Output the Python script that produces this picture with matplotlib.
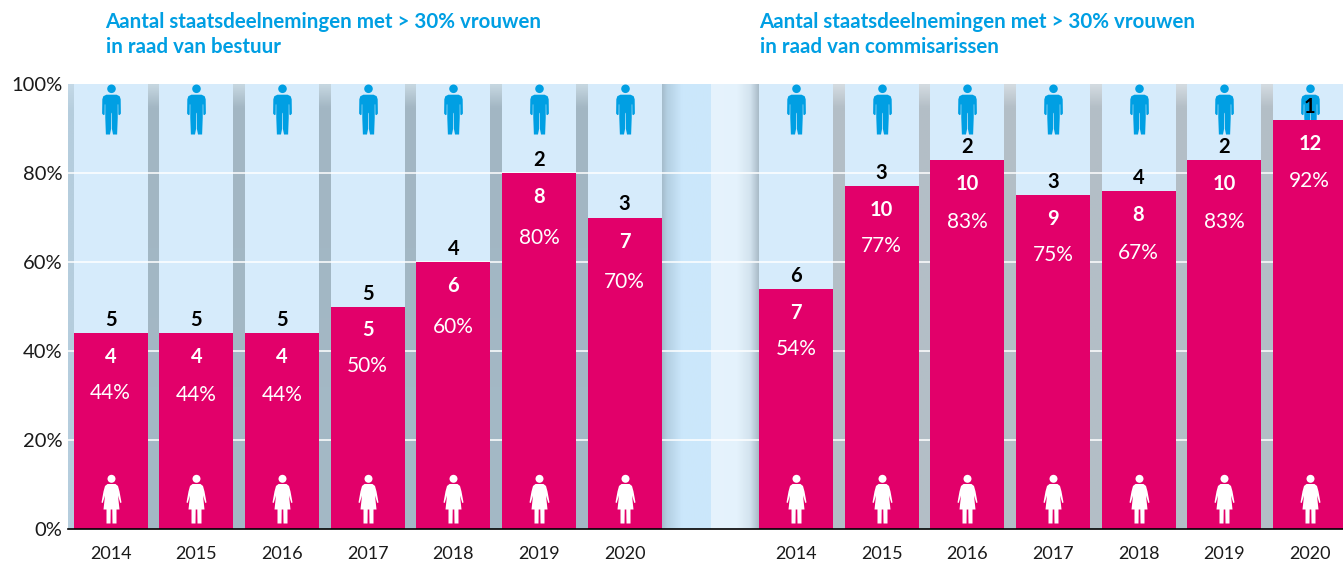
import numpy as np
import matplotlib
matplotlib.use('Agg')
import matplotlib.pyplot as plt
from matplotlib.path import Path
from matplotlib.colors import to_rgb

plt.rcParams['font.family'] = ['Lato', 'DejaVu Sans']

# data
jaren = ['2014', '2015', '2016', '2017', '2018', '2019', '2020']
hoogte_bestuur = [44, 44, 44, 50, 60, 80, 70]
vrouwen_bestuur = [4, 4, 4, 5, 6, 8, 7]
mannen_bestuur = [5, 5, 5, 5, 4, 2, 3]
pct_bestuur = [44, 44, 44, 50, 60, 80, 70]

hoogte_rvc = [54, 77, 83, 75, 76, 83, 92]
vrouwen_rvc = [7, 10, 10, 9, 8, 10, 12]
mannen_rvc = [6, 3, 2, 3, 4, 2, 1]
pct_rvc = [54, 77, 83, 75, 67, 83, 92]

titel_links = 'Aantal staatsdeelnemingen met > 30% vrouwen\nin raad van bestuur'
titel_rechts = 'Aantal staatsdeelnemingen met > 30% vrouwen\nin raad van commisarissen'

ROZE = '#e2006a'
LICHT = '#d6ebfb'
BLAUW = '#009fe3'

W, H = 1343, 563
PITCH = 85.65
BAR_W = 74 / PITCH

# afstand percentage-label tot bovenkant balk, in pixels
pct_dy = [-60, -62, -62, -59, -65, -65, -65, -60, -60, -62, -60, -62, -62, -61]


def px2x(px):
    return (px - 110.7) / PITCH


def mirror(right):
    left = [(-x, y) for x, y in reversed(right)]
    return right + left


def figuur(outline, head_y, head_r):
    pts = mirror(outline)
    body = Path(pts + [pts[0]], closed=True)
    head = Path.circle((0, head_y), head_r)
    return Path.make_compound_path(body, head)


man = figuur([(0, 14.5), (5, 14.5), (8, 13), (9, 10), (9.2, -4), (8, -5.5), (6.7, -5),
              (6.6, 5), (6.1, 5), (6.1, -8), (5.5, -24.5), (1.5, -24.5), (0.4, -19),
              (0.3, -4), (0, -3)], 20.3, 4.2)
vrouw = figuur([(0, 14.5), (4, 14.5), (6.5, 12.5), (8, 7), (10, -4), (8.8, -4.5),
                (6.5, 3), (8, -11), (5, -11), (5, -25), (1, -25), (0.8, -11), (0, -11)],
               19.7, 4.0)


def verloop(ax, x0, x1, stops, richting='h'):
    # stops: (positie 0-1, kleur)
    t = np.linspace(0, 1, 128)
    pos = [s[0] for s in stops]
    rgb = np.array([to_rgb(s[1]) for s in stops])
    arr = np.stack([np.interp(t, pos, rgb[:, i]) for i in range(3)], axis=-1)
    arr = arr[None, :, :] if richting == 'h' else arr[:, None, :]
    ax.imshow(arr, extent=(x0, x1, 0, 100), origin='upper', aspect='auto', zorder=0,
              interpolation='bilinear')


fig = plt.figure(figsize=(W / 100, H / 100), dpi=100)
ax = fig.add_axes([68 / W, 1 - 529 / H, (W - 68) / W, (529 - 84) / H])

# achtergrond: stroken tussen de balken
xs = np.arange(15)
x_links = xs[:7]
x_rechts = xs[8:]
verloop(ax, px2x(68), -BAR_W / 2, [(0, '#c3d8e6'), (0.06, '#b5cddd'), (1, '#b5cddd')], 'v')
for x in x_links[:-1]:
    verloop(ax, x + BAR_W / 2, x + 1 - BAR_W / 2,
            [(0, '#c5d6e0'), (0.05, '#a2b6c3'), (1, '#a4b9c6')], 'v')
for x in x_rechts[:-1]:
    verloop(ax, x + BAR_W / 2, x + 1 - BAR_W / 2,
            [(0, '#d2dae0'), (0.05, '#b3bec6'), (1, '#b3bfc7')], 'v')
verloop(ax, 6 + BAR_W / 2, px2x(711),
        [(0, '#a5bccb'), (0.1, '#b3cfe2'), (0.4, '#cbe7fb'), (1, '#cce8fb')])
verloop(ax, px2x(711), 8 - BAR_W / 2,
        [(0, '#e6f3fd'), (0.55, '#e4f2fc'), (0.82, '#d3e3ef'), (1, '#a9bbc8')])

# lichte balken, rasterlijnen, roze balken
x_alle = np.concatenate([x_links, x_rechts])
hoogtes = hoogte_bestuur + hoogte_rvc
ax.bar(x_alle, 100, width=BAR_W, color=LICHT, zorder=1)
ax.plot(x_alle, [94.3] * 14, ls='none', marker=man, ms=36, mfc=BLAUW, mew=0, zorder=2)
ax.hlines([20, 40, 60, 80], px2x(68), px2x(W), color='white', lw=1.1, zorder=3)
ax.bar(x_alle, hoogtes, width=BAR_W, color=ROZE, zorder=4)
ax.plot(x_alle, [6.9] * 14, ls='none', marker=vrouw, ms=36, mfc='white', mew=0, zorder=5)

# labels
mannen = mannen_bestuur + mannen_rvc
vrouwen = vrouwen_bestuur + vrouwen_rvc
pcts = pct_bestuur + pct_rvc
for x, h, m, v, p, dy in zip(x_alle, hoogtes, mannen, vrouwen, pcts, pct_dy):
    ax.annotate(str(m), (x, h), xytext=(0, 13), textcoords='offset pixels', ha='center',
                va='center', fontsize=14.5, fontweight='bold', color='black', zorder=6)
    ax.annotate(str(v), (x, h), xytext=(0, -24), textcoords='offset pixels', ha='center',
                va='center', fontsize=14.5, fontweight='bold', color='white', zorder=6)
    ax.annotate(f'{p}%', (x, h), xytext=(0, dy), textcoords='offset pixels', ha='center',
                va='center', fontsize=15, color='white', zorder=6)

ax.set_xlim(px2x(68), px2x(W))
ax.set_ylim(0, 100)
ax.set_xticks(x_alle, jaren + jaren)
ax.set_yticks([0, 20, 40, 60, 80, 100], ['0%', '20%', '40%', '60%', '80%', '100%'])
ax.tick_params(axis='both', length=0, labelcolor='#1a1a1a')
ax.tick_params(axis='x', pad=12, labelsize=13)
ax.tick_params(axis='y', pad=4, labelsize=14.5)
for s in ['top', 'left', 'right']:
    ax.spines[s].set_visible(False)
ax.spines['bottom'].set_linewidth(1.2)
ax.spines['bottom'].set_color('black')
ax.spines['bottom'].set_zorder(7)

fig.text(105.5 / W, 1 - 12 / H, titel_links, color=BLAUW, fontsize=14.8, fontweight='bold',
         va='top', ha='left', linespacing=1.33)
fig.text(759.5 / W, 1 - 12 / H, titel_rechts, color=BLAUW, fontsize=14.8, fontweight='bold',
         va='top', ha='left', linespacing=1.33)

fig.savefig('out.png', dpi=100)
